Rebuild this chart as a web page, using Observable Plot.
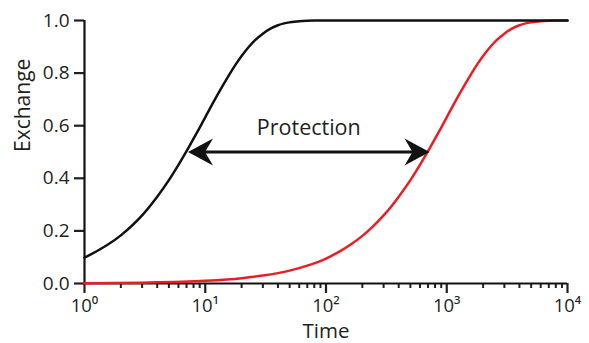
<!DOCTYPE html>
<html>
<head>
<meta charset="utf-8">
<script src="https://cdn.jsdelivr.net/npm/d3@7"></script>
<script src="https://cdn.jsdelivr.net/npm/@observablehq/plot@0.6"></script>
<style>
  html, body { margin: 0; padding: 0; background: #fff; }
  #chart svg { display: block; }
</style>
</head>
<body>
<div id="chart"></div>
<script>
// Black curve (fast exchange)
const blackTime = [1, 2, 3, 4, 5, 6, 7, 8, 9, 10, 12, 14, 16, 18, 20, 23, 26, 30, 35, 40, 45, 50, 60, 70, 80, 100, 10000];
const blackExchange = [0.098, 0.183, 0.259, 0.330, 0.393, 0.451, 0.503, 0.551, 0.593, 0.632, 0.699, 0.753, 0.798, 0.835, 0.865, 0.900, 0.926, 0.950, 0.970, 0.982, 0.989, 0.993, 0.9975, 0.9991, 0.9997, 1.0, 1.0];

// Red curve (protected exchange)
const redTime = [1, 3, 10, 20, 30, 50, 70, 100, 130, 160, 200, 250, 300, 350, 400, 500, 600, 700, 800, 900, 1000, 1200, 1400, 1600, 1800, 2000, 2300, 2600, 3000, 3500, 4000, 4500, 5000, 6000, 7000, 8000, 10000];
const redExchange = [0.001, 0.003, 0.010, 0.020, 0.030, 0.049, 0.068, 0.095, 0.122, 0.148, 0.181, 0.221, 0.259, 0.295, 0.330, 0.393, 0.451, 0.503, 0.551, 0.593, 0.632, 0.699, 0.753, 0.798, 0.835, 0.865, 0.900, 0.926, 0.950, 0.970, 0.982, 0.989, 0.993, 0.9975, 0.9991, 0.9997, 1.0];

// Protection arrow: from black half-point to red half-point
const arrowTime = [7.2, 720];
const arrowLevel = 0.5;
const arrowLabel = "Protection";

// Axis titles and ticks
const xTitle = "Time";
const yTitle = "Exchange";
const yTicks = [0, 0.2, 0.4, 0.6, 0.8, 1.0];
const xMajorTicks = [1, 10, 100, 1000, 10000];
const xMinorTicks = [2,3,4,5,6,7,8,9,20,30,40,50,60,70,80,90,200,300,400,500,600,700,800,900,2000,3000,4000,5000,6000,7000,8000,9000];

const sup = "⁰¹²³⁴⁵⁶⁷⁸⁹";
const fmtPow = d => "10" + String(Math.round(Math.log10(d))).split("").map(c => sup[+c]).join("");

const black = blackTime.map((t, i) => ({t, e: blackExchange[i]}));
const red = redTime.map((t, i) => ({t, e: redExchange[i]}));

// Barbed arrowhead pointing right, tip at origin
const arrowHead = {
  draw(ctx) {
    ctx.moveTo(0, 0);
    ctx.lineTo(-25, -13.5);
    ctx.lineTo(-17, 0);
    ctx.lineTo(-25, 13.5);
    ctx.closePath();
  }
};

const ink = "#231f20";

const chart = Plot.plot({
  width: 589,
  height: 343,
  marginTop: 20,
  marginBottom: 60,
  marginLeft: 84,
  marginRight: 22,
  style: {fontFamily: "'Open Sans', sans-serif", fontSize: "19px", color: ink, background: "#fff"},
  x: {type: "log", domain: [1, 10000]},
  y: {domain: [0, 1]},
  marks: [
    Plot.axisY({ticks: yTicks, tickSize: 10, tickPadding: 5, tickFormat: d3.format(".1f"), strokeWidth: 2.2, fontSize: 19, label: null}),
    Plot.axisX({ticks: xMinorTicks, tickSize: 5, strokeWidth: 2, tickFormat: () => "", label: null}),
    Plot.axisX({ticks: xMajorTicks, tickSize: 10, tickPadding: 5, strokeWidth: 2.2, tickFormat: fmtPow, fontSize: 18.5, label: null}),
    Plot.ruleX([1], {stroke: "#111", strokeWidth: 2.2}),
    Plot.ruleY([0], {stroke: "#111", strokeWidth: 2.2}),
    Plot.line(red, {x: "t", y: "e", stroke: "#ed1c24", strokeWidth: 2.5, curve: "monotone-x"}),
    Plot.line(black, {x: "t", y: "e", stroke: "#111", strokeWidth: 2.5, curve: "monotone-x"}),
    Plot.ruleY([{x1: arrowTime[0], x2: arrowTime[1], y: arrowLevel}], {x1: "x1", x2: "x2", y: "y", stroke: "#111", strokeWidth: 3, insetLeft: 10, insetRight: 10}),
    Plot.dot([{x: arrowTime[0], r: 180}, {x: arrowTime[1], r: 0}], {x: "x", y: () => arrowLevel, symbol: arrowHead, rotate: "r", fill: "#111", stroke: "none", r: 5}),
    Plot.text([arrowLabel], {x: () => Math.sqrt(arrowTime[0] * arrowTime[1]), y: () => arrowLevel, dy: -24, text: d => d, fontSize: 21.5, fill: ink}),
    Plot.text([xTitle], {frameAnchor: "bottom", dy: 48, lineAnchor: "middle", text: d => d, fontSize: 20.5, fill: ink}),
    Plot.text([yTitle], {frameAnchor: "left", dx: -61, lineAnchor: "middle", rotate: -90, text: d => d, fontSize: 21, fill: ink})
  ]
});
document.getElementById("chart").appendChild(chart);
</script>
</body>
</html>
